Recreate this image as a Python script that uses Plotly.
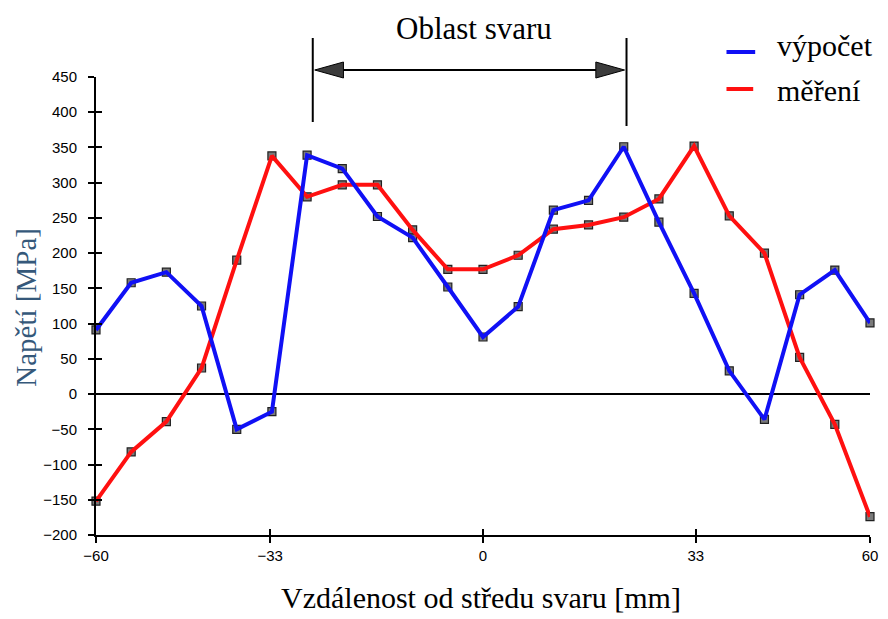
import numpy as np
import plotly.graph_objects as go

# Distance from weld centre [mm] (23 equally spaced stations)
x_mm = np.linspace(-60, 60, 23).tolist()

# Stress [MPa]
vypocet = [91, 158, 173, 125, -50, -25, 339, 320, 252, 222, 152, 81,
           124, 261, 275, 351, 244, 143, 33, -36, 141, 176, 101]
mereni = [-152, -82, -39, 37, 190, 338, 280, 297, 297, 233, 177, 177,
          197, 234, 240, 251, 277, 352, 253, 200, 52, -43, -174]

x_ticks = [-60, -33, 0, 33, 60]
y_ticks = list(range(-200, 451, 50))

W, H = 888, 619
L, R, T, B = 96, 10, 77, 84


def fx(px):
    return (px - L) / (W - L - R)


def fy(py):
    return (H - B - py) / (H - T - B)


serif = "Liberation Serif, Times New Roman, serif"
sans = "Liberation Sans, Arial, sans-serif"

fig = go.Figure()

# measurement point markers sit under the lines
for ys in (vypocet, mereni):
    fig.add_trace(go.Scatter(
        x=x_mm, y=ys, mode="markers", cliponaxis=False, showlegend=False,
        marker=dict(symbol="square", size=8, color="#7a7a7a",
                    line=dict(color="#202020", width=1.2)),
        hoverinfo="skip"))

fig.add_trace(go.Scatter(x=x_mm, y=mereni, mode="lines", name="měření",
                         cliponaxis=False, line=dict(color="#ff1010", width=4)))
fig.add_trace(go.Scatter(x=x_mm, y=vypocet, mode="lines", name="výpočet",
                         cliponaxis=False, line=dict(color="#1010f5", width=4)))

axis_common = dict(showgrid=False, linecolor="black", linewidth=2,
                   tickcolor="black", tickwidth=2, ticklen=6)
tick_only = {k: v for k, v in axis_common.items() if k not in ("linecolor", "linewidth")}

fig.update_layout(
    width=W, height=H,
    margin=dict(l=L, r=R, t=T, b=B),
    paper_bgcolor="white", plot_bgcolor="white",
    showlegend=False,
    xaxis=dict(range=[-60, 60], tickvals=x_ticks, ticks="outside",
               showline=True, zeroline=False,
               tickfont=dict(family=sans, size=15, color="black"),
               **axis_common),
    yaxis=dict(range=[-200, 450], tickvals=y_ticks, ticks="outside",
               showline=True, zeroline=True, zerolinecolor="black",
               zerolinewidth=2,
               ticklabelstandoff=8,
               tickfont=dict(family=sans, size=15, color="black"),
               **axis_common),
    # inner half of the crossing tick marks
    xaxis2=dict(range=[-60, 60], tickvals=x_ticks, ticks="inside",
                showticklabels=False, showline=False, zeroline=False,
                overlaying="x", side="bottom", anchor="y", **tick_only),
    yaxis2=dict(range=[-200, 450], tickvals=y_ticks, ticks="inside",
                showticklabels=False, showline=False, zeroline=False,
                overlaying="y", side="left", anchor="x", **tick_only),
)

# dummy trace so the overlay axes are drawn
fig.add_trace(go.Scatter(x=[None], y=[None], xaxis="x2", yaxis="y2",
                         showlegend=False, hoverinfo="skip"))

shapes = []
# weld zone bracket
for px, py2 in ((315, 122), (632, 126)):
    shapes.append(dict(type="line", xref="paper", yref="paper",
                       x0=fx(px), x1=fx(px), y0=fy(38), y1=fy(py2),
                       line=dict(color="black", width=2)))
shapes.append(dict(type="line", xref="paper", yref="paper",
                   x0=fx(330), x1=fx(618), y0=fy(70), y1=fy(70),
                   line=dict(color="black", width=2)))
for tip, base in ((317, 346), (630, 601)):
    path = (f"M {fx(tip)},{fy(70)} L {fx(base)},{fy(62)} "
            f"L {fx(base)},{fy(78)} Z")
    shapes.append(dict(type="path", xref="paper", yref="paper", path=path,
                       fillcolor="#3c3c3c", line=dict(color="black", width=1)))
# legend keys
shapes.append(dict(type="line", xref="paper", yref="paper",
                   x0=fx(733), x1=fx(762), y0=fy(52), y1=fy(52),
                   line=dict(color="#1010f5", width=4)))
shapes.append(dict(type="line", xref="paper", yref="paper",
                   x0=fx(733), x1=fx(760), y0=fy(89), y1=fy(89),
                   line=dict(color="#ff1010", width=4)))

annotations = [
    dict(text="Oblast svaru", xref="paper", yref="paper", x=fx(478), y=fy(28),
         showarrow=False, xanchor="center", yanchor="middle",
         font=dict(family=serif, size=31, color="black")),
    dict(text="výpočet", xref="paper", yref="paper", x=fx(782), y=fy(45),
         showarrow=False, xanchor="left", yanchor="middle",
         font=dict(family=serif, size=30, color="black")),
    dict(text="měření", xref="paper", yref="paper", x=fx(782), y=fy(90),
         showarrow=False, xanchor="left", yanchor="middle",
         font=dict(family=serif, size=30, color="black")),
    dict(text="Vzdálenost od středu svaru [mm]", xref="paper", yref="paper",
         x=fx(485), y=fy(597), showarrow=False, xanchor="center",
         yanchor="middle", font=dict(family=serif, size=30, color="black")),
    dict(text="Napětí [MPa]", xref="paper", yref="paper",
         x=fx(25), y=fy(307), showarrow=False, textangle=-90,
         xanchor="center", yanchor="middle",
         font=dict(family=serif, size=29, color="#35587a")),
]

fig.update_layout(shapes=shapes, annotations=annotations)

fig.write_html("out.html")
